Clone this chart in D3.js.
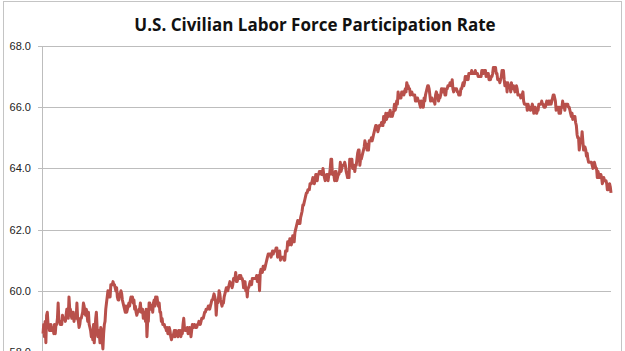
<!DOCTYPE html>
<html>
<head>
<meta charset="utf-8">
<script src="https://cdn.jsdelivr.net/npm/d3@7"></script>
<style>
  html, body { margin: 0; padding: 0; background: #fff; }
  svg { display: block; }
</style>
</head>
<body>
<svg id="chart"></svg>
<script>
const title = 'U.S. Civilian Labor Force Participation Rate';
const startYear = 1948;
const yTicks = [58, 60, 62, 64, 66, 68];

// monthly, seasonally adjusted, one row per year from Jan 1948
const rate = [
  58.6, 58.9, 58.5, 59.0, 58.3, 59.2, 59.3, 58.9, 58.9, 58.7, 58.7, 58.9, // 1948
  58.7, 58.7, 58.8, 58.6, 58.9, 58.6, 58.9, 58.9, 59.1, 59.6, 59.0, 59.0, // 1949
  58.9, 59.0, 58.9, 59.2, 59.1, 59.1, 59.1, 59.0, 59.2, 59.4, 59.3, 59.1, // 1950
  59.8, 59.4, 59.4, 59.2, 59.1, 59.3, 59.3, 59.0, 59.2, 59.1, 59.1, 59.6, // 1951
  59.1, 59.0, 58.8, 58.9, 59.1, 59.1, 59.2, 59.3, 59.6, 59.5, 59.3, 59.2, // 1952
  59.4, 59.2, 59.0, 59.3, 58.9, 58.8, 58.7, 58.5, 58.6, 58.4, 58.9, 58.3, // 1953
  58.7, 59.1, 59.3, 58.8, 58.5, 58.7, 58.6, 58.3, 58.8, 58.7, 58.4, 58.1, // 1954
  58.6, 58.9, 59.0, 59.4, 59.6, 59.8, 60.0, 59.9, 59.8, 59.8, 60.2, 60.2, // 1955
  60.2, 60.3, 60.2, 60.2, 60.1, 60.0, 60.1, 59.8, 59.7, 59.7, 59.9, 59.9, // 1956
  60.0, 59.9, 59.7, 59.6, 59.5, 59.4, 59.3, 59.5, 59.3, 59.4, 59.5, 59.6, // 1957
  59.5, 59.7, 59.8, 59.7, 59.8, 59.6, 59.7, 59.4, 59.5, 59.3, 59.2, 59.3, // 1958
  59.3, 59.4, 59.4, 59.6, 59.3, 59.3, 59.4, 59.1, 59.2, 59.3, 59.0, 59.4, // 1959
  58.5, 59.0, 59.0, 59.6, 59.6, 59.5, 59.4, 59.5, 59.3, 59.6, 59.7, 59.5, // 1960
  59.8, 59.6, 59.8, 59.6, 59.5, 59.6, 59.3, 59.3, 59.0, 59.1, 58.9, 58.9, // 1961
  58.9, 58.8, 58.8, 58.7, 58.8, 58.6, 58.6, 58.8, 58.7, 58.5, 58.4, 58.5, // 1962
  58.5, 58.6, 58.7, 58.5, 58.7, 58.6, 58.6, 58.5, 58.7, 58.6, 58.7, 58.5, // 1963
  58.6, 58.6, 58.9, 59.1, 58.8, 58.7, 58.7, 58.7, 58.8, 58.6, 58.7, 58.8, // 1964
  58.7, 58.5, 58.7, 58.9, 58.8, 58.8, 58.9, 58.8, 58.8, 58.8, 58.9, 58.9, // 1965
  59.0, 58.9, 58.9, 59.0, 59.1, 59.1, 59.1, 59.2, 59.3, 59.3, 59.4, 59.4, // 1966
  59.4, 59.5, 59.5, 59.4, 59.5, 59.6, 59.7, 59.7, 59.8, 59.9, 59.8, 59.7, // 1967
  59.2, 59.6, 59.6, 59.7, 60.0, 59.9, 59.7, 59.6, 59.5, 59.6, 59.6, 59.8, // 1968
  59.9, 60.0, 60.1, 60.1, 60.0, 60.1, 60.2, 60.3, 60.2, 60.2, 60.1, 60.2, // 1969
  60.4, 60.4, 60.4, 60.6, 60.3, 60.3, 60.4, 60.4, 60.5, 60.4, 60.5, 60.4, // 1970
  60.4, 60.3, 60.1, 60.2, 60.3, 60.0, 60.1, 59.8, 60.1, 60.1, 60.2, 60.3, // 1971
  60.2, 60.2, 60.4, 60.4, 60.4, 60.4, 60.4, 60.4, 60.5, 60.3, 60.3, 60.5, // 1972
  60.0, 60.6, 60.7, 60.6, 60.6, 60.8, 60.8, 60.7, 60.8, 60.9, 61.0, 61.1, // 1973
  61.2, 61.2, 61.2, 61.2, 61.1, 61.2, 61.3, 61.2, 61.3, 61.3, 61.3, 61.4, // 1974
  61.4, 61.1, 61.2, 61.2, 61.3, 61.0, 61.1, 61.1, 61.1, 61.1, 61.0, 61.0, // 1975
  61.3, 61.3, 61.3, 61.6, 61.5, 61.5, 61.7, 61.7, 61.5, 61.6, 61.8, 61.7, // 1976
  61.6, 61.9, 62.0, 62.1, 62.2, 62.3, 62.2, 62.3, 62.2, 62.4, 62.5, 62.6, // 1977
  62.8, 62.8, 62.9, 63.0, 63.1, 63.2, 63.2, 63.3, 63.3, 63.3, 63.5, 63.5, // 1978
  63.5, 63.6, 63.7, 63.6, 63.5, 63.6, 63.8, 63.8, 63.6, 63.8, 63.8, 63.9, // 1979
  63.9, 63.9, 63.8, 63.8, 64.0, 63.8, 63.7, 63.6, 63.7, 63.8, 63.8, 63.6, // 1980
  63.8, 63.8, 64.0, 64.3, 64.3, 63.8, 63.8, 63.8, 63.6, 63.9, 63.9, 63.6, // 1981
  63.7, 63.8, 63.8, 63.9, 64.2, 63.9, 64.0, 64.1, 64.1, 64.1, 64.2, 64.1, // 1982
  63.9, 63.8, 63.7, 63.8, 63.7, 64.3, 64.1, 64.3, 64.3, 64.0, 64.1, 64.1, // 1983
  63.9, 64.1, 64.1, 64.3, 64.5, 64.6, 64.6, 64.1, 64.3, 64.3, 64.4, 64.5, // 1984
  64.6, 64.7, 64.9, 64.8, 64.8, 64.6, 64.7, 64.6, 64.9, 64.9, 64.9, 65.0, // 1985
  64.9, 65.0, 65.1, 65.2, 65.3, 65.4, 65.4, 65.3, 65.2, 65.3, 65.4, 65.4, // 1986
  65.4, 65.5, 65.5, 65.4, 65.7, 65.5, 65.6, 65.8, 65.6, 65.7, 65.8, 65.7, // 1987
  65.8, 65.9, 65.7, 65.8, 65.7, 65.8, 65.9, 66.1, 65.9, 66.0, 66.2, 66.1, // 1988
  66.5, 66.3, 66.3, 66.4, 66.3, 66.5, 66.5, 66.5, 66.4, 66.5, 66.6, 66.5, // 1989
  66.8, 66.7, 66.7, 66.6, 66.6, 66.4, 66.5, 66.5, 66.4, 66.4, 66.4, 66.4, // 1990
  66.2, 66.2, 66.3, 66.3, 66.2, 66.2, 66.1, 66.0, 66.2, 66.1, 66.0, 66.0, // 1991
  66.3, 66.2, 66.4, 66.5, 66.6, 66.7, 66.7, 66.6, 66.4, 66.2, 66.3, 66.3, // 1992
  66.2, 66.2, 66.2, 66.1, 66.4, 66.5, 66.4, 66.4, 66.2, 66.3, 66.3, 66.4, // 1993
  66.6, 66.6, 66.5, 66.5, 66.6, 66.4, 66.4, 66.6, 66.6, 66.7, 66.7, 66.7, // 1994
  66.8, 66.8, 66.7, 66.9, 66.6, 66.5, 66.6, 66.6, 66.6, 66.6, 66.5, 66.5, // 1995
  66.4, 66.5, 66.4, 66.6, 66.6, 66.7, 66.8, 66.7, 66.8, 67.0, 66.9, 67.0, // 1996
  67.0, 66.9, 67.1, 67.1, 67.1, 67.1, 67.2, 67.1, 67.1, 67.1, 67.1, 67.2, // 1997
  67.1, 67.1, 67.1, 67.0, 67.0, 67.0, 67.0, 67.0, 67.2, 67.2, 67.1, 67.2, // 1998
  67.2, 67.2, 67.0, 67.1, 67.1, 67.1, 66.9, 67.0, 66.9, 67.0, 67.0, 67.1, // 1999
  67.3, 67.3, 67.3, 67.3, 67.1, 67.1, 66.9, 66.9, 66.9, 66.8, 66.9, 67.0, // 2000
  67.2, 67.1, 67.2, 66.9, 66.7, 66.7, 66.8, 66.5, 66.8, 66.7, 66.7, 66.7, // 2001
  66.5, 66.8, 66.6, 66.7, 66.7, 66.6, 66.5, 66.6, 66.7, 66.6, 66.4, 66.4, // 2002
  66.4, 66.4, 66.3, 66.4, 66.4, 66.5, 66.2, 66.1, 66.1, 66.1, 66.1, 65.9, // 2003
  66.1, 66.0, 66.0, 65.9, 65.9, 66.0, 66.1, 66.0, 65.8, 65.9, 66.0, 65.9, // 2004
  65.8, 65.9, 65.9, 66.1, 66.1, 66.1, 66.1, 66.2, 66.1, 66.1, 66.0, 66.0, // 2005
  66.0, 66.1, 66.2, 66.1, 66.1, 66.2, 66.1, 66.2, 66.1, 66.2, 66.3, 66.4, // 2006
  66.4, 66.3, 66.2, 65.9, 66.0, 66.0, 66.0, 65.8, 66.0, 65.8, 66.0, 66.0, // 2007
  66.2, 66.0, 66.1, 65.9, 66.1, 66.1, 66.1, 66.1, 66.0, 66.0, 65.9, 65.8, // 2008
  65.7, 65.8, 65.6, 65.7, 65.7, 65.7, 65.5, 65.4, 65.1, 65.0, 65.0, 64.6, // 2009
  64.8, 64.9, 64.9, 65.2, 64.9, 64.6, 64.6, 64.7, 64.6, 64.4, 64.5, 64.3, // 2010
  64.2, 64.2, 64.2, 64.2, 64.2, 64.1, 64.0, 64.1, 64.2, 64.1, 64.0, 64.0, // 2011
  63.7, 63.9, 63.8, 63.7, 63.8, 63.8, 63.7, 63.5, 63.6, 63.7, 63.6, 63.6, // 2012
  63.6, 63.5, 63.3, 63.3, 63.4, 63.5, 63.4, 63.2                          // 2013
];

const width = 625, height = 351;
const margin = { top: 46, right: 14, bottom: -1, left: 43 };

const svg = d3.select('#chart')
  .attr('width', width)
  .attr('height', height);

// chart frame
svg.append('rect')
  .attr('x', 3.5).attr('y', 1.5)
  .attr('width', 618).attr('height', 380)
  .attr('fill', '#fff')
  .attr('stroke', '#c4c4c4');

const months = rate.map((v, i) => ({ date: new Date(startYear, i, 1), value: v }));

const x = d3.scaleTime()
  .domain(d3.extent(months, d => d.date))
  .range([margin.left, width - margin.right]);

const y = d3.scaleLinear()
  .domain([58, 68])
  .range([height - margin.bottom, margin.top]);

// gridlines + labels
const yAxis = svg.append('g')
  .attr('transform', `translate(${margin.left - 1},0)`)
  .call(d3.axisLeft(y)
    .tickValues(yTicks)
    .tickSize(-(width - margin.right - margin.left + 1))
    .tickFormat(d3.format('.1f')))
  .call(g => g.select('.domain').remove());

yAxis.selectAll('.tick line')
  .attr('x1', -4)
  .attr('stroke', '#bdbdbd')
  .attr('shape-rendering', 'crispEdges');

yAxis.selectAll('.tick text')
  .attr('x', -11)
  .attr('fill', '#222')
  .style('font-family', '"Liberation Sans", Arial, sans-serif')
  .style('font-size', '11px');

// vertical axis line
svg.append('line')
  .attr('x1', margin.left - 1).attr('x2', margin.left - 1)
  .attr('y1', y(68)).attr('y2', height)
  .attr('stroke', '#bdbdbd')
  .attr('shape-rendering', 'crispEdges');

// series
const line = d3.line()
  .x(d => x(d.date))
  .y(d => y(d.value));

svg.append('path')
  .datum(months)
  .attr('fill', 'none')
  .attr('stroke', '#b8504b')
  .attr('stroke-width', 3)
  .attr('stroke-linejoin', 'round')
  .attr('d', line);

// title
svg.append('text')
  .attr('x', 315)
  .attr('y', 31)
  .attr('text-anchor', 'middle')
  .style('font-family', '"Open Sans", sans-serif')
  .style('font-weight', 'bold')
  .style('font-size', '17px')
  .attr('fill', '#111')
  .text(title);
</script>
</body>
</html>
